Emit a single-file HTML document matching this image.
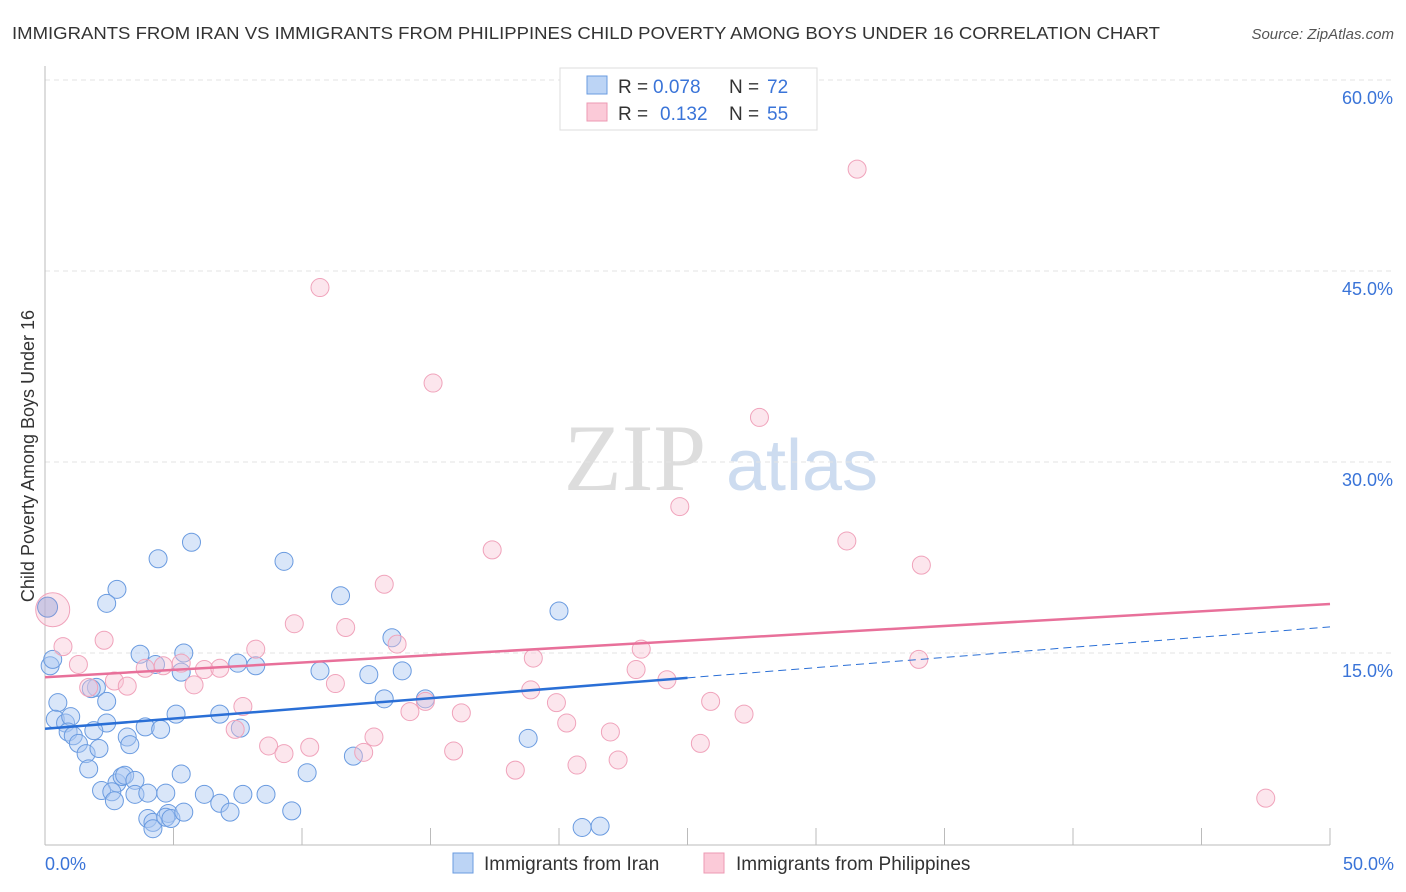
<!DOCTYPE html><html><head><meta charset="utf-8"><style>
body{margin:0;background:#fff;font-family:"Liberation Sans",sans-serif;}
svg{display:block}
</style></head><body>
<svg id="c" width="1406" height="892" xmlns="http://www.w3.org/2000/svg">
<text x="12" y="39" font-size="17.5" fill="#333" textLength="1148" lengthAdjust="spacingAndGlyphs">IMMIGRANTS FROM IRAN VS IMMIGRANTS FROM PHILIPPINES CHILD POVERTY AMONG BOYS UNDER 16 CORRELATION CHART</text>
<text x="1394" y="39" font-size="15" fill="#555" font-style="italic" text-anchor="end">Source: ZipAtlas.com</text>
<text x="635" y="490" font-size="95" fill="#ddd" font-family="Liberation Serif" text-anchor="middle">ZIP</text>
<text x="802" y="490" font-size="72" fill="#cddcf0" text-anchor="middle">atlas</text>
<g id="grid"></g><g id="pts"></g><g id="lines"></g>
<text transform="translate(34,456) rotate(-90)" font-size="18" fill="#333" text-anchor="middle">Child Poverty Among Boys Under 16</text>
<g>
<rect x="560" y="68" width="257" height="62" fill="#fff" stroke="#ddd"/>
<rect x="587" y="76" width="20" height="18" fill="#bcd4f5" stroke="#6a9be0"/>
<rect x="587" y="103" width="20" height="18" fill="#fbcad8" stroke="#ec9ab3"/>
<text x="618" y="93" font-size="19" fill="#333">R =</text>
<text x="653" y="93" font-size="19" fill="#3a74d8">0.078</text>
<text x="729" y="93" font-size="19" fill="#333">N =</text>
<text x="767" y="93" font-size="19" fill="#3a74d8">72</text>
<text x="618" y="120" font-size="19" fill="#333">R =</text>
<text x="660" y="120" font-size="19" fill="#3a74d8">0.132</text>
<text x="729" y="120" font-size="19" fill="#333">N =</text>
<text x="767" y="120" font-size="19" fill="#3a74d8">55</text>
</g>
<g>
<rect x="453" y="853" width="20" height="20" fill="#bcd4f5" stroke="#6a9be0"/>
<text x="484" y="870" font-size="19" fill="#333">Immigrants from Iran</text>
<rect x="704" y="853" width="20" height="20" fill="#fbcad8" stroke="#ec9ab3"/>
<text x="736" y="870" font-size="19" fill="#333">Immigrants from Philippines</text>
</g>
<text x="45" y="870" font-size="18" fill="#3a74d8">0.0%</text>
<text x="1394" y="870" font-size="18" fill="#3a74d8" text-anchor="end">50.0%</text>
</svg>
<script>
const yTicks=[15,30,45,60];
const xTickCount=10;
const iranX=[2.8,2.4,4.4,5.7,9.3,11.5,20.0,5.4,0.2,0.3,3.7,5.3,4.3,7.5,8.2,10.7,12.6,13.5,13.9,14.8,0.5,2.0,2.4,5.1,0.4,0.8,1.0,1.8,2.4,3.9,4.5,6.8,7.6,1.9,0.9,1.1,1.3,1.6,1.7,2.1,3.2,3.3,2.8,2.2,2.6,2.7,3.0,3.1,3.5,3.5,4.7,5.3,6.2,4.8,6.8,7.2,7.7,8.6,9.6,10.2,12.0,13.2,18.8,20.9,21.6,4.0,4.2,4.2,4.7,4.9,4.0,5.4];
const iranY=[20.0,18.9,22.4,23.7,22.2,19.5,18.3,15.0,14.0,14.5,14.9,13.5,14.1,14.2,14.0,13.6,13.3,16.2,13.6,11.4,11.1,12.3,11.2,10.2,9.8,9.5,10.0,12.2,9.5,9.2,9.0,10.2,9.1,8.9,8.8,8.5,7.9,7.1,5.9,7.5,8.4,7.8,4.8,4.2,4.1,3.4,5.3,5.4,5.0,3.9,4.0,5.5,3.9,2.4,3.2,2.5,3.9,3.9,2.6,5.6,6.9,11.4,8.3,1.3,1.4,2.0,1.7,1.2,2.1,2.0,4.0,2.5];
const philX=[31.6,10.7,15.1,27.8,24.7,17.4,31.2,34.1,13.2,9.7,11.7,2.3,8.2,13.7,23.2,19.0,34.0,0.7,1.3,3.9,4.6,5.3,6.2,6.8,2.7,3.2,1.7,5.8,11.3,23.0,24.2,18.9,14.8,19.9,25.9,14.2,16.2,27.2,7.7,7.4,20.3,22.0,12.8,8.7,9.3,10.3,12.4,15.9,25.5,18.3,20.7,22.3,47.5,0.3];
const philY=[53.0,43.7,36.2,33.5,26.5,23.1,23.8,21.9,20.4,17.3,17.0,16.0,15.3,15.7,15.3,14.6,14.5,15.5,14.1,13.8,14.0,14.2,13.7,13.8,12.8,12.4,12.3,12.5,12.6,13.7,12.9,12.1,11.2,11.1,11.2,10.4,10.3,10.2,10.8,9.0,9.5,8.8,8.4,7.7,7.1,7.6,7.2,7.3,7.9,5.8,6.2,6.6,3.6,18.4];
const SVGNS="http://www.w3.org/2000/svg";
const X=v=>45+v/50*1285, Y=v=>844-v/15*191;
function mk(t,a,p){const e=document.createElementNS(SVGNS,t);for(const k in a)e.setAttribute(k,a[k]);p.appendChild(e);return e;}
const grid=document.getElementById('grid');
yTicks.forEach(t=>{
 const l=mk('line',{x1:45,x2:1394,y1:Y(t),y2:Y(t),stroke:'#e3e3e3','stroke-dasharray':'5,4'},grid);
 
 
 const tx=mk('text',{x:1393,y:Y(t)+24,'font-size':18,fill:'#3a74d8','text-anchor':'end'},grid);
 tx.textContent=t.toFixed(1)+'%';
 
 
});
mk('line',{x1:45,x2:45,y1:66,y2:845,stroke:'#bbb'},grid);
mk('line',{x1:45,x2:1330,y1:845,y2:845,stroke:'#bbb'},grid);
for(let i=1;i<=xTickCount;i++){const xx=X(i*5);const t=mk('line',{x1:xx,x2:xx,y1:828,y2:845,stroke:'#bbb'},grid);
 
 }
const pts=document.getElementById('pts');
iranX.forEach((x,i)=>{const c=mk('circle',{cx:X(x),cy:Y(iranY[i]),r:9,fill:'rgba(170,200,242,0.45)',stroke:'#6a9be0','stroke-width':1},pts);
 
 });
philX.forEach((x,i)=>{const r=(i==philX.length-1?17:9);const c=mk('circle',{cx:X(x),cy:Y(philY[i]),r:r,fill:'rgba(248,195,212,0.42)',stroke:'#f0a3bb','stroke-width':1},pts);
 
 });
const big=mk('circle',{cx:X(0.1),cy:Y(18.6),r:10,fill:'rgba(160,170,220,0.5)',stroke:'#7b98d8'},pts);


const ln=document.getElementById('lines');
const bi=[9.05,0.16], ph=[13.1,0.115];
let l1=mk('line',{x1:X(0),y1:Y(bi[0]),x2:X(25),y2:Y(bi[0]+bi[1]*25),stroke:'#2a6fd6','stroke-width':2.5},ln);


let l2=mk('line',{x1:X(25),y1:Y(bi[0]+bi[1]*25),x2:X(50),y2:Y(bi[0]+bi[1]*50),stroke:'#2a6fd6','stroke-width':1,'stroke-dasharray':'8,5'},ln);


let l3=mk('line',{x1:X(0),y1:Y(ph[0]),x2:X(50),y2:Y(ph[0]+ph[1]*50),stroke:'#e8709a','stroke-width':2.5},ln);


</script>
</body></html>
